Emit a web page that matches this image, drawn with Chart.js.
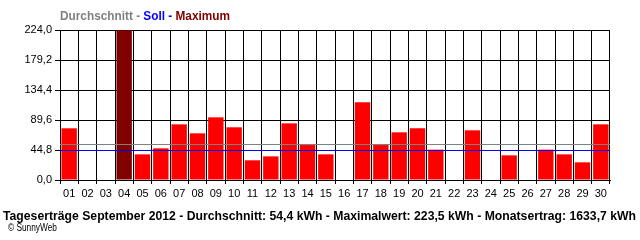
<!DOCTYPE html>
<html>
<head>
<meta charset="utf-8">
<script src="https://cdn.jsdelivr.net/npm/chart.js@4"></script>
<style>
  body { margin: 0; background: #fff; }
  #wrap { position: relative; width: 640px; height: 240px; overflow: hidden; }
  #chart { position: absolute; left: 0; top: 0; }
  .txt { position: absolute; white-space: nowrap; transform-origin: left top; font-family: "Liberation Sans", Arial, sans-serif; }
  #head { left: 60px; top: 9px; font-size: 12px; font-weight: bold; }
  #foot { left: 3px; top: 208px; font-size: 13px; font-weight: bold; color: #000; }
  #copy { left: 8px; top: 222px; font-size: 10px; color: #000; }
</style>
</head>
<body>
<div id="wrap">
  <canvas id="chart" width="640" height="240"></canvas>
  <div class="txt" id="head"><span style="color:#808080">Durchschnitt - </span><span style="color:#0000ff">Soll - </span><span style="color:#800000">Maximum</span></div>
  <div class="txt" id="foot">Tageserträge September 2012 - Durchschnitt: 54,4 kWh - Maximalwert: 223,5 kWh - Monatsertrag: 1633,7 kWh</div>
  <div class="txt" id="copy">© SunnyWeb</div>
</div>
<script>
const days = ['01','02','03','04','05','06','07','08','09','10','11','12','13','14','15',
              '16','17','18','19','20','21','22','23','24','25','26','27','28','29','30'];
const yields = [77.2, 0, 0, 223.5, 38.3, 47.3, 83.1, 69.7, 93.6, 78.7, 29.4, 35.3, 84.6, 52.2, 38.3,
                0, 116.0, 52.2, 71.2, 77.2, 45.3, 0, 74.2, 0, 36.8, 0, 45.3, 38.3, 26.4, 83.1];
const yTicks = [0, 44.8, 89.6, 134.4, 179.2, 224.0];
const average = 53.5;
const target = 44.8;

const maxValue = Math.max(...yields);
const barColors = yields.map(v => v === maxValue ? '#800000' : '#ff0000');

// fit text lines to the width they have in the original
function fitWidth(id, width) {
    const el = document.getElementById(id);
    const w = el.getBoundingClientRect().width;
    el.style.transform = `scaleX(${width / w})`;
}
fitWidth('head', 170);
fitWidth('foot', 633);
fitWidth('copy', 49);

const refLines = {
    id: 'refLines',
    afterDatasetsDraw(chart) {
        const { ctx, chartArea, scales } = chart;
        [[average, '#808080'], [target, '#0000ff']].forEach(([v, color]) => {
            const y = Math.round(scales.y.getPixelForValue(v)) + 0.5;
            ctx.save();
            ctx.strokeStyle = color;
            ctx.lineWidth = 1;
            ctx.beginPath();
            ctx.moveTo(chartArea.left, y);
            ctx.lineTo(chartArea.right, y);
            ctx.stroke();
            ctx.restore();
        });
    }
};

const chart = new Chart(document.getElementById('chart').getContext('2d'), {
    type: 'bar',
    data: {
        labels: days,
        datasets: [{
            data: yields,
            backgroundColor: barColors,
            borderWidth: 0,
            barPercentage: 0.84,
            categoryPercentage: 1.0
        }]
    },
    options: {
        responsive: false,
        animation: false,
        layout: { padding: { top: 30, right: 30, bottom: 40, left: 0 } },
        plugins: { legend: { display: false }, tooltip: { enabled: false } },
        scales: {
            x: {
                offset: true,
                grid: { offset: true, color: '#000', lineWidth: 1, tickLength: 4, drawTicks: true },
                border: { color: '#000', width: 1 },
                ticks: { color: '#000', font: { family: 'Liberation Sans', size: 11 }, padding: 3, maxRotation: 0, autoSkip: false },
                afterFit(scale) { scale.height = 20; }
            },
            y: {
                min: 0,
                max: 224,
                afterBuildTicks(scale) { scale.ticks = yTicks.map(v => ({ value: v })); },
                grid: { color: '#000', lineWidth: 1, tickLength: 5 },
                border: { color: '#000', width: 1 },
                ticks: {
                    color: '#000',
                    font: { family: 'Liberation Sans', size: 11 },
                    padding: 3,
                    callback: v => v.toFixed(1).replace('.', ',')
                },
                afterFit(scale) { scale.width = 60; }
            }
        }
    },
    plugins: [refLines]
});
</script>
</body>
</html>
